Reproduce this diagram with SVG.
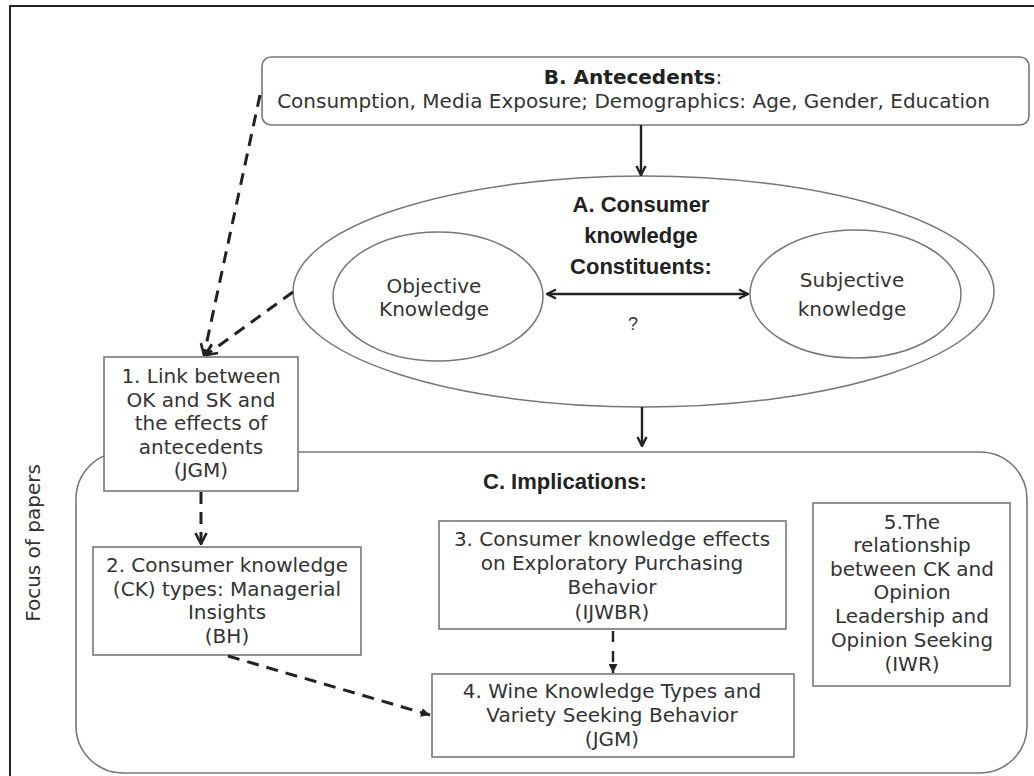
<svg xmlns="http://www.w3.org/2000/svg" width="1034" height="776" viewBox="0 0 1034 776">
<defs>
<style>
.t{font-family:"DejaVu Sans",Verdana,sans-serif;font-size:20px;fill:#333;text-anchor:middle}
.tb{font-family:"DejaVu Sans",Verdana,sans-serif;font-size:20px;fill:#222;font-weight:bold}
.cb{font-family:"Liberation Sans",Arial,sans-serif;font-size:22px;font-weight:bold;fill:#222}
.box{fill:#fff;stroke:#777;stroke-width:1.6}
.ell{fill:#fff;stroke:#777;stroke-width:1.5}
.solid{stroke:#222;stroke-width:2.4;fill:none}
.dash{stroke:#222;stroke-width:3;fill:none;stroke-dasharray:12 8}
.dash2{stroke:#222;stroke-width:2.4;fill:none;stroke-dasharray:11 9}
</style>
<marker id="chev" viewBox="0 0 12 12" refX="11" refY="6" markerWidth="12" markerHeight="12" orient="auto-start-reverse" markerUnits="userSpaceOnUse">
<path d="M2,1.5 L11,6 L2,10.5" fill="none" stroke="#222" stroke-width="2.4"/>
</marker>
<marker id="vchev" viewBox="0 0 14 14" refX="13" refY="7" markerWidth="14" markerHeight="14" orient="auto" markerUnits="userSpaceOnUse">
<path d="M2,1.5 L13,7 L2,12.5" fill="none" stroke="#222" stroke-width="2.6"/>
</marker>
<marker id="tri" viewBox="0 0 10 10" refX="10" refY="5" markerWidth="9" markerHeight="9" orient="auto" markerUnits="userSpaceOnUse">
<path d="M0,0 L10,5 L0,10 z" fill="#222"/>
</marker>
</defs>
<rect x="10" y="6" width="1040" height="790" fill="#fff" stroke="#222" stroke-width="2"/>

<g id="nodeC">
<rect class="box" x="76" y="452" width="951" height="321" rx="47" ry="47"/>
<text class="cb" x="483" y="489">C. Implications:</text>
</g>

<g id="nodeB">
<rect class="box" x="262" y="57" width="767" height="68" rx="9" ry="9"/>
<text class="t" x="633" y="84"><tspan font-weight="bold" fill="#222">B. Antecedents</tspan>:</text>
<text class="t" x="633.5" y="108">Consumption, Media Exposure; Demographics: Age, Gender, Education</text>
</g>

<g id="nodeA">
<ellipse class="ell" cx="643.5" cy="291.5" rx="350.5" ry="115.5"/>
<text class="cb" x="641" y="212" text-anchor="middle">A. Consumer</text>
<text class="cb" x="641" y="243" text-anchor="middle">knowledge</text>
<text class="cb" x="641" y="274" text-anchor="middle">Constituents:</text>
<text x="633" y="330" style="font-family:'Liberation Sans',Arial,sans-serif;font-size:18px;fill:#333" text-anchor="middle">?</text>
</g>

<g id="nodeOK">
<ellipse class="ell" cx="438" cy="296.5" rx="105" ry="64.5"/>
<text class="t" x="434" y="293">Objective</text>
<text class="t" x="434" y="316">Knowledge</text>
</g>

<g id="nodeSK">
<ellipse class="ell" cx="855.5" cy="294" rx="105.5" ry="64"/>
<text class="t" x="852" y="287">Subjective</text>
<text class="t" x="852" y="316">knowledge</text>
</g>

<g id="node1">
<rect class="box" x="104" y="357" width="194" height="134"/>
<text class="t" x="201" y="383">1. Link between</text>
<text class="t" x="201" y="406.5">OK and SK and</text>
<text class="t" x="201" y="430">the effects of</text>
<text class="t" x="201" y="453.5">antecedents</text>
<text class="t" x="201" y="477">(JGM)</text>
</g>

<g id="node2">
<rect class="box" x="93" y="547" width="268" height="108"/>
<text class="t" x="227" y="572">2. Consumer knowledge</text>
<text class="t" x="227" y="595.5">(CK) types: Managerial</text>
<text class="t" x="227" y="619">Insights</text>
<text class="t" x="227" y="643">(BH)</text>
</g>

<g id="node3">
<rect class="box" x="439" y="521" width="347" height="108"/>
<text class="t" x="612" y="546">3. Consumer knowledge effects</text>
<text class="t" x="612" y="570">on Exploratory Purchasing</text>
<text class="t" x="612" y="594">Behavior</text>
<text class="t" x="612" y="619">(IJWBR)</text>
</g>

<g id="node4">
<rect class="box" x="432" y="674" width="362" height="83"/>
<text class="t" x="612" y="698">4. Wine Knowledge Types and</text>
<text class="t" x="612" y="722">Variety Seeking Behavior</text>
<text class="t" x="612" y="746">(JGM)</text>
</g>

<g id="node5">
<rect class="box" x="813" y="503" width="197" height="183"/>
<text class="t" x="912" y="529">5.The</text>
<text class="t" x="912" y="552">relationship</text>
<text class="t" x="912" y="576" textLength="164" lengthAdjust="spacingAndGlyphs">between CK and</text>
<text class="t" x="912" y="599">Opinion</text>
<text class="t" x="912" y="623" textLength="154" lengthAdjust="spacingAndGlyphs">Leadership and</text>
<text class="t" x="912" y="647" textLength="162" lengthAdjust="spacingAndGlyphs">Opinion Seeking</text>
<text class="t" x="912" y="671">(IWR)</text>
</g>

<g id="label-focus">
<text class="t" x="40" y="543" transform="rotate(-90 40 543)">Focus of papers</text>
</g>

<g id="connectors">
<line class="solid" x1="641" y1="125" x2="641" y2="175" marker-end="url(#chev)"/>
<line class="solid" x1="642" y1="407" x2="642" y2="446" marker-end="url(#chev)"/>
<line class="solid" x1="547" y1="294" x2="748" y2="294" marker-start="url(#chev)" marker-end="url(#chev)"/>
<line class="dash" x1="260" y1="95" x2="204" y2="355" marker-end="url(#vchev)"/>
<line class="dash" x1="293" y1="292" x2="206" y2="355" marker-end="url(#vchev)"/>
<line class="dash" x1="201" y1="492" x2="201" y2="544" marker-end="url(#vchev)"/>
<line class="dash" x1="228" y1="656" x2="430" y2="715" marker-end="url(#tri)"/>
<line class="dash2" x1="613" y1="631" x2="613" y2="673" marker-end="url(#tri)"/>
</g>
</svg>
